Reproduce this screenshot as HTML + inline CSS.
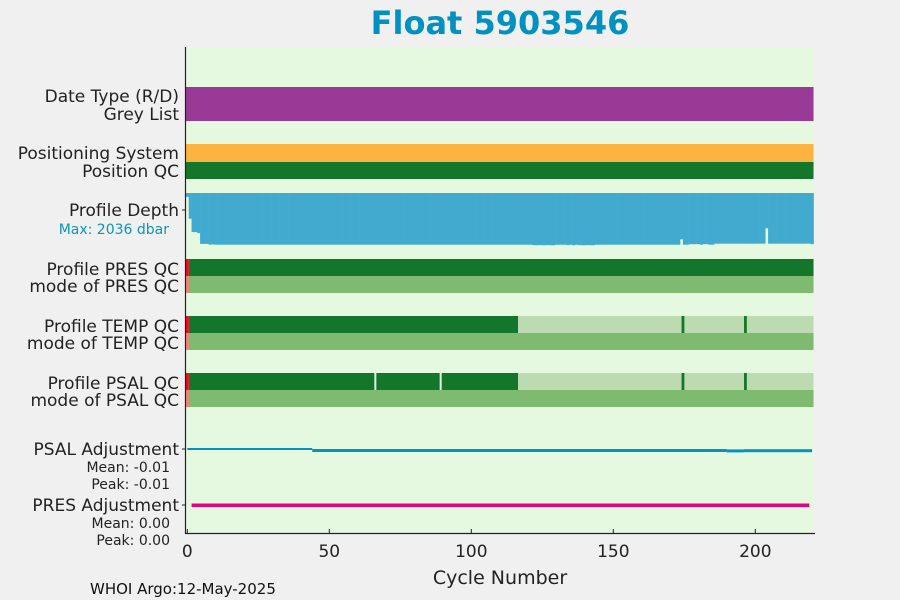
<!DOCTYPE html>
<html><head><meta charset="utf-8">
<style>
body{margin:0;background:#f0f0f0;}
svg{display:block;font-family:"DejaVu Sans","Liberation Sans",sans-serif;}
</style></head>
<body>
<svg id="chart" width="900" height="600" viewBox="0 0 900 600">
<rect x="0" y="0" width="900" height="600" fill="#f0f0f0"/>
<text x="500" y="34" text-anchor="middle" font-size="32" font-weight="bold" fill="#0091c0">Float 5903546</text>
<rect x="186" y="47" width="628" height="486" fill="#e5f8e0"/>
<g id="marks"></g>
<g font-size="17" fill="#222" text-anchor="end">
<text x="179" y="102">Date Type (R/D)</text>
<text x="179" y="120">Grey List</text>
<text x="179" y="159">Positioning System</text>
<text x="179" y="177">Position QC</text>
<text x="179" y="216">Profile Depth</text>
<text x="169" y="234" font-size="14" fill="#0a94c0">Max: 2036 dbar</text>
<text x="179" y="275">Profile PRES QC</text>
<text x="179" y="292">mode of PRES QC</text>
<text x="179" y="332">Profile TEMP QC</text>
<text x="179" y="349">mode of TEMP QC</text>
<text x="179" y="389">Profile PSAL QC</text>
<text x="179" y="406">mode of PSAL QC</text>
<text x="179" y="455">PSAL Adjustment</text>
<text x="170" y="472" font-size="14">Mean: -0.01</text>
<text x="170" y="489" font-size="14">Peak: -0.01</text>
<text x="179" y="511">PRES Adjustment</text>
<text x="170" y="528" font-size="14">Mean: 0.00</text>
<text x="170" y="545" font-size="14">Peak: 0.00</text>
</g>
<line x1="185.5" y1="47" x2="185.5" y2="534" stroke="#222" stroke-width="1.2"/>
<line x1="185" y1="533.5" x2="815" y2="533.5" stroke="#222" stroke-width="1.2"/>
<g stroke="#222">
<line x1="182" y1="210" x2="186" y2="210"/><line x1="182" y1="449" x2="186" y2="449"/><line x1="182" y1="505" x2="186" y2="505"/>
</g>
<g id="xticks"></g>
<text x="500" y="584" text-anchor="middle" font-size="19" fill="#222">Cycle Number</text>
<text x="90" y="594" font-size="15" fill="#111">WHOI Argo:12-May-2025</text>
</svg>
<script>
const xTicks=[0,50,100,150,200];
const nCycles=221;
const maxDepth=2036;
const depths=[150,1000,1520,1520,1560,1980,1980,1980,2010,2000,2010,2010,2010,2010,2010,2010,2010,2010,2010,2010,
2010,2010,2010,2010,2010,2010,2010,2010,2010,2010,2010,2010,2010,2010,2010,2010,2010,2010,2010,2010,
2010,2010,2010,2010,2010,2010,2010,2010,2010,2010,2010,2010,2010,2010,2010,2010,2010,2010,2010,2010,
2010,2010,2010,2010,2010,2010,2010,2010,2010,2010,2010,2010,2010,2010,2010,2010,2010,2010,2010,2010,
2010,2010,2010,2010,2010,2010,2010,2010,2010,2010,2010,2010,2010,2010,2010,2010,2010,2010,2010,2010,
2010,2010,2010,2010,2010,2010,2010,2010,2010,2010,2010,2010,2010,2010,2010,2010,2010,2010,2010,2010,
2010,2010,2025,2030,2025,2030,2030,2025,2030,2030,2010,2010,2010,2010,2025,2010,2030,2010,2025,2030,
2030,2025,2030,2030,2010,2010,2010,2010,2010,2010,2010,2010,2010,2010,2010,2010,2010,2010,2010,2010,
2010,2010,2010,2010,2010,2010,2010,2010,2010,2010,2010,2010,2010,2010,1800,2010,2010,1990,1990,1990,
1990,2010,1990,1990,2010,2010,1970,1970,1970,1970,1970,1970,1970,1970,1970,1970,1970,1970,1970,1970,
1970,1970,1970,1970,1370,1970,1970,1970,1970,1970,1970,1970,1970,1970,1970,1970,1970,1970,1970,1970,1990];
const tempGoodEnd=116;
const tempTickCycles=[174,196];
const psalGapCycles=[66,89];
const psalAdj=[[0,44,-0.005],[44,190,-0.01],[190,196,-0.012],[196,220,-0.011]];
const presAdj=[[1.5,219,0]];

const x0=187.3, px=2.84;
function xs(c){return x0+c*px;}
function dy(d){return 193+d/2100*54;}
const ns="http://www.w3.org/2000/svg";
const g=document.getElementById('marks');
function rect(x,y,w,h,fill){const r=document.createElementNS(ns,'rect');r.setAttribute('x',x);r.setAttribute('y',y);r.setAttribute('width',w);r.setAttribute('height',h);r.setAttribute('fill',fill);g.appendChild(r);return r;}
const L=xs(-0.5)-0.2, R=xs(nCycles-0.5);
let r;
r=rect(L,87,R-L,34,'#993b96');


r=rect(L,144,R-L,18,'#fdb33f');


r=rect(L,162,R-L,17,'#13762a');


depths.forEach((d,i)=>{
  const b=rect(xs(i-0.5),193,px+0.3,dy(d)-193,'#42aacf');
  
  
});
function qcRow(y,goodEnd,ticks,gaps,name){
  let a=rect(xs(0.5),y,xs(goodEnd+0.5)-xs(0.5),17,'#13762a');
  
  
  if(goodEnd<nCycles-1){a=rect(xs(goodEnd+0.5),y,R-xs(goodEnd+0.5),17,'#bcdbb0');
  
  }
  ticks.forEach(c=>{const t=rect(xs(c)+0.1,y,2.8,17,'#13762a');
  
  });
  gaps.forEach(c=>{const t=rect(xs(c)-0.4,y,2,17,'#e5f8e0');
  
  });
  a=rect(L,y,xs(0.5)-L,17,'#ff0022');
  
  
  a=rect(L,y+17,R-L,17,'#7fba71');
  
  
  a=rect(L,y+17,xs(0.5)-L,17,'#ff7f78');
  
  
}
qcRow(259,nCycles-1,[],[],'pres-qc');
qcRow(316,tempGoodEnd,tempTickCycles,[],'temp-qc');
qcRow(373,tempGoodEnd,tempTickCycles,psalGapCycles,'psal-qc');
psalAdj.forEach(s=>{const a=rect(xs(s[0]),449+(-s[2]-0.005)*200-1,xs(s[1])-xs(s[0]),s[2]<-0.006?3:2,'#0094c2');

});
presAdj.forEach(s=>{const a=rect(xs(s[0]),503.5-s[2],xs(s[1])-xs(s[0]),3.5,'#e6007e');

});
const xt=document.getElementById('xticks');
xTicks.forEach(v=>{
  const l=document.createElementNS(ns,'line');
  l.setAttribute('x1',xs(v));l.setAttribute('x2',xs(v));l.setAttribute('y1',529);l.setAttribute('y2',534);l.setAttribute('stroke','#222');
  
  
  xt.appendChild(l);
  const t=document.createElementNS(ns,'text');
  t.setAttribute('x',xs(v));t.setAttribute('y',557);t.setAttribute('text-anchor','middle');t.setAttribute('font-size','17');t.setAttribute('fill','#222');
  t.textContent=v;
  
  
  xt.appendChild(t);
});
</script>
</body></html>
